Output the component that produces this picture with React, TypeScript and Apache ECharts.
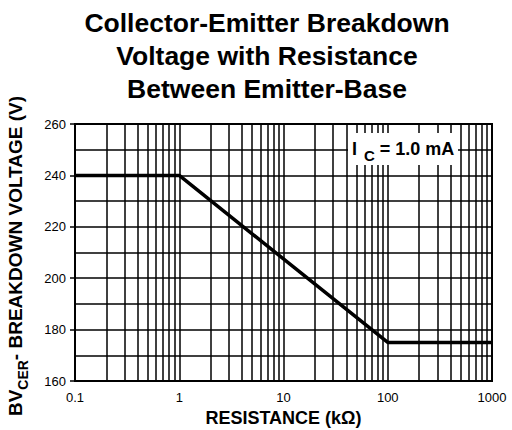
import React, { useEffect, useRef } from "react";
import * as echarts from "echarts";

const resistanceK: number[] = [0.1, 1, 100, 1000];
const breakdownV: number[] = [240, 240, 175, 175];
const minorGridX: number[] = [
  0.2, 0.3, 0.4, 0.5, 0.6, 0.7, 0.8, 0.9,
  2, 3, 4, 5, 6, 7, 8, 9,
  20, 30, 40, 50, 60, 70, 80, 90,
  200, 300, 400, 500, 600, 700, 800, 900,
];
const xTickLabels: string[] = ["0.1", "1", "10", "100", "1000"];
const titleLines: string[] = [
  "Collector-Emitter Breakdown",
  "Voltage with Resistance",
  "Between Emitter-Base",
];

const FONT = "'Liberation Sans', Arial, Helvetica, sans-serif";

export default function App() {
  const ref = useRef<HTMLDivElement>(null);
  useEffect(() => {
    if (!ref.current) return;
    const chart = echarts.init(ref.current, null, { renderer: "svg" });
    const option: any = {
      animation: false,
      backgroundColor: "#fff",
      textStyle: { fontFamily: FONT },
      grid: {
        left: 75,
        top: 124,
        width: 417,
        height: 257,
        show: true,
        borderColor: "#000",
        borderWidth: 2,
        backgroundColor: "transparent",
        containLabel: false,
        outerBoundsMode: "none",
      },
      xAxis: {
        type: "log",
        logBase: 10,
        min: 0.1,
        max: 1000,
        axisLine: { show: true, lineStyle: { color: "#000", width: 2 } },
        axisTick: { show: false },
        splitLine: { show: true, lineStyle: { color: "#000", width: 1.5 } },
        axisLabel: {
          color: "#000",
          fontSize: 13,
          fontFamily: FONT,
          margin: 10,
          formatter: (_v: number, i: number) => xTickLabels[i] ?? "",
        },
        name: "RESISTANCE (kΩ)",
        nameLocation: "middle",
        nameGap: 27,
        nameTextStyle: { color: "#000", fontSize: 18, fontWeight: "bold", fontFamily: FONT },
      },
      yAxis: {
        type: "value",
        min: 160,
        max: 260,
        interval: 20,
        axisLine: { show: true, lineStyle: { color: "#000", width: 2 } },
        axisTick: { show: true, inside: false, length: 5, lineStyle: { color: "#000", width: 1.5 } },
        splitLine: { show: true, lineStyle: { color: "#000", width: 1.5 } },
        minorTick: { show: false, splitNumber: 2 },
        minorSplitLine: { show: true, lineStyle: { color: "#000", width: 1.5 } },
        axisLabel: { color: "#000", fontSize: 13, fontFamily: FONT, margin: 9 },
      },
      series: [
        {
          type: "line",
          data: resistanceK.map((r, i) => [r, breakdownV[i]]),
          symbol: "none",
          lineStyle: { color: "#000", width: 3.5 },
          z: 5,
          markLine: {
            silent: true,
            symbol: "none",
            label: { show: false },
            lineStyle: { color: "#000", width: 1.5, type: "solid" },
            data: minorGridX.map((v) => ({ xAxis: v })),
            z: 1,
          },
        },
      ],
      graphic: [
        {
          type: "text",
          x: 267,
          y: 6,
          z: 100,
          style: {
            text: titleLines.join("\n"),
            textAlign: "center",
            textVerticalAlign: "top",
            fontSize: 26.5,
            fontWeight: "bold",
            fontFamily: FONT,
            lineHeight: 33,
            fill: "#000",
          },
        },
        {
          type: "text",
          x: 16,
          y: 256,
          rotation: Math.PI / 2,
          z: 100,
          style: {
            text: "{a|BV}{s|CER}{a|- BREAKDOWN VOLTAGE (V)}",
            textAlign: "center",
            textVerticalAlign: "middle",
            fill: "#000",
            rich: {
              a: { fontSize: 19, fontWeight: "bold", fontFamily: FONT, lineHeight: 20, verticalAlign: "top", fill: "#000" },
              s: { fontSize: 14, fontWeight: "bold", fontFamily: FONT, lineHeight: 14, padding: [10, 0, 0, 0], verticalAlign: "top", fill: "#000" },
            },
          },
        },
        {
          type: "rect",
          z: 100,
          shape: { x: 348, y: 133, width: 110, height: 32 },
          style: { fill: "#fff" },
        },
        {
          type: "text",
          x: 352,
          y: 149,
          z: 101,
          style: {
            text: "{a|I }{s|C}{a| = 1.0 mA}",
            textAlign: "left",
            textVerticalAlign: "middle",
            fill: "#000",
            rich: {
              a: { fontSize: 18, fontWeight: "bold", fontFamily: FONT, lineHeight: 19, verticalAlign: "top", fill: "#000" },
              s: { fontSize: 15, fontWeight: "bold", fontFamily: FONT, lineHeight: 15, padding: [8, 0, 0, 2], verticalAlign: "top", fill: "#000" },
            },
          },
        },
      ],
    };
    chart.setOption(option);
    return () => chart.dispose();
  }, []);
  return (
    <div
      ref={ref}
      style={{ position: "fixed", left: 0, top: 0, width: 512, height: 430 }}
    />
  );
}
